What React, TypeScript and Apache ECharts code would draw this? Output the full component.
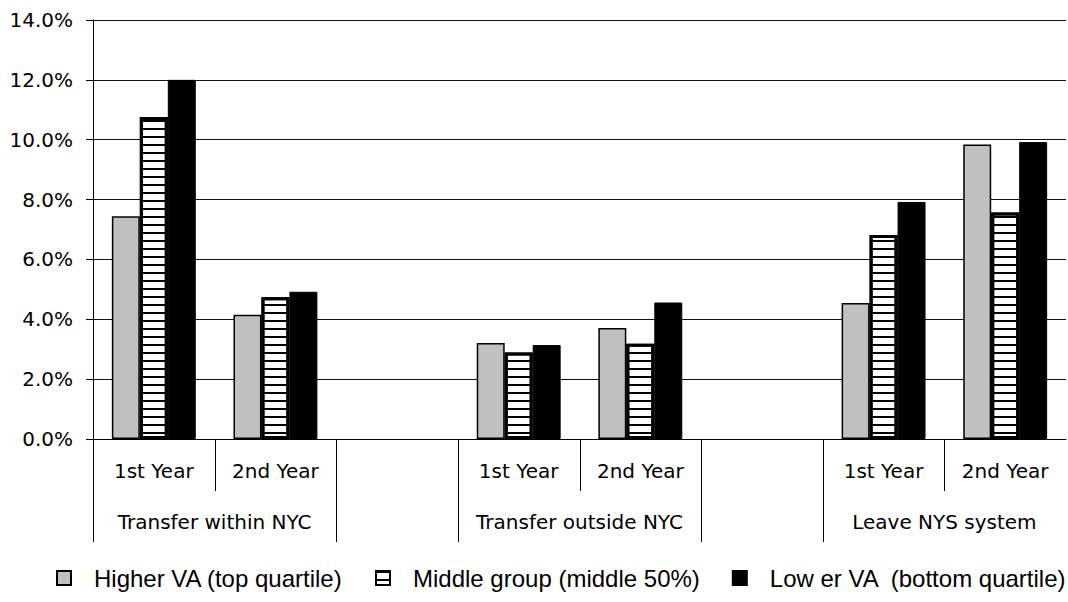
import React, { useEffect, useRef } from 'react';
import * as echarts from 'echarts';

// ---- data ----
const groupNames = ['Transfer within NYC', '', 'Transfer outside NYC', '', 'Leave NYS system'];
const groupSpans = [2, 1, 2, 1, 2];
const categoryLabels = ['1st Year', '2nd Year', '', '1st Year', '2nd Year', '', '1st Year', '2nd Year'];
const seriesNames = ['Higher VA (top quartile)', 'Middle group (middle 50%)', 'Low er VA  (bottom quartile)'];
const higherVA = [7.44, 4.15, null, 3.21, 3.71, null, 4.54, 9.84];
const middleGroup = [10.76, 4.74, null, 2.89, 3.18, null, 6.82, 7.57];
const lowerVA = [12.0, 4.92, null, 3.14, 4.56, null, 7.92, 9.92];
const yTicks = { min: 0, max: 14, interval: 2 };

const categories = categoryLabels.map((l, i) => i + '|' + l);

const AXIS_FONT = '"DejaVu Sans", sans-serif';
const LEGEND_FONT = '"Liberation Sans", Arial, sans-serif';

export default function App() {
  const ref = useRef<HTMLDivElement>(null);
  useEffect(() => {
    if (!ref.current) return;
    const chart = echarts.init(ref.current, null, { renderer: 'svg' });
    const option: any = {
      animation: false,
      backgroundColor: '#fff',
      grid: { left: 93, right: 2, top: 20, bottom: 163, containLabel: false },
      legend: {
        left: 56,
        top: 566,
        width: 1012,
        padding: 0,
        itemWidth: 14,
        itemHeight: 14,
        itemGap: 32,
        icon: 'rect',
        textStyle: { fontFamily: LEGEND_FONT, fontSize: 24, color: '#000', padding: [0, 0, 0, 18] },
        data: seriesNames,
      },
      xAxis: {
        type: 'category',
        data: categories,
        axisLine: { show: true, lineStyle: { color: '#000', width: 1 } },
        axisTick: { show: false },
        axisLabel: {
          interval: 0,
          margin: 22,
          fontFamily: AXIS_FONT,
          fontSize: 20,
          color: '#000',
          formatter: (v: string) => v.split('|')[1],
        },
        splitLine: { show: false },
      },
      yAxis: {
        type: 'value',
        min: yTicks.min,
        max: yTicks.max,
        interval: yTicks.interval,
        axisLine: { show: true, lineStyle: { color: '#000', width: 1 } },
        axisTick: { show: true, inside: false, length: 7, lineStyle: { color: '#000' } },
        axisLabel: {
          margin: 20,
          fontFamily: AXIS_FONT,
          fontSize: 20,
          color: '#000',
          formatter: (v: number) => v.toFixed(1) + '%',
        },
        splitLine: { show: true, lineStyle: { color: '#111', width: 1 } },
      },
      series: [
        {
          name: seriesNames[0],
          type: 'bar',
          data: higherVA,
          barGap: '0%',
          barCategoryGap: '31%',
          itemStyle: { color: '#c0c0c0', borderColor: '#000', borderWidth: 1.5 },
        },
        {
          name: seriesNames[1],
          type: 'bar',
          data: middleGroup,
          barGap: '0%',
          barCategoryGap: '31%',
          itemStyle: {
            color: '#fff',
            borderColor: '#000',
            borderWidth: 3,
            decal: {
              symbol: 'rect',
              symbolSize: 1,
              dashArrayX: [1, 0],
              dashArrayY: [2, 6],
              rotation: 0,
              color: '#000',
            },
          },
        },
        {
          name: seriesNames[2],
          type: 'bar',
          data: lowerVA,
          barGap: '0%',
          barCategoryGap: '31%',
          itemStyle: { color: '#000', borderColor: '#000', borderWidth: 1 },
        },
      ],
    };
    chart.setOption(option);

    // tick separators and group labels, positioned through the axis scales
    const cx = (i: number) => chart.convertToPixel({ xAxisIndex: 0 }, i) as number;
    const band = cx(1) - cx(0);
    const boundary = (i: number) => cx(i) - band / 2;
    const y0 = chart.convertToPixel({ yAxisIndex: 0 }, 0) as number;
    const shortLen = 52;
    const longLen = 103;
    const graphics: any[] = [];
    let start = 0;
    groupNames.forEach((g, gi) => {
      const span = groupSpans[gi];
      const xb = Math.round(boundary(start)) + 0.5;
      graphics.push({
        type: 'line',
        silent: true,
        shape: { x1: xb, y1: y0, x2: xb, y2: y0 + longLen },
        style: { stroke: '#000', lineWidth: 1 },
      });
      for (let k = 1; k < span; k++) {
        const xs = Math.round(boundary(start + k)) + 0.5;
        graphics.push({
          type: 'line',
          silent: true,
          shape: { x1: xs, y1: y0, x2: xs, y2: y0 + shortLen },
          style: { stroke: '#000', lineWidth: 1 },
        });
      }
      if (g) {
        const center = (boundary(start) + boundary(start) + band * span) / 2;
        graphics.push({
          type: 'text',
          silent: true,
          x: center,
          y: y0 + 83,
          style: {
            text: g,
            fill: '#000',
            fontSize: 20,
            fontFamily: AXIS_FONT,
            align: 'center',
            verticalAlign: 'middle',
          },
        });
      }
      start += span;
    });
    chart.setOption({ graphic: graphics });

    return () => chart.dispose();
  }, []);
  return (
    <div
      ref={ref}
      style={{ position: 'fixed', left: 0, top: 0, width: 1068, height: 602, background: '#fff' }}
    />
  );
}
